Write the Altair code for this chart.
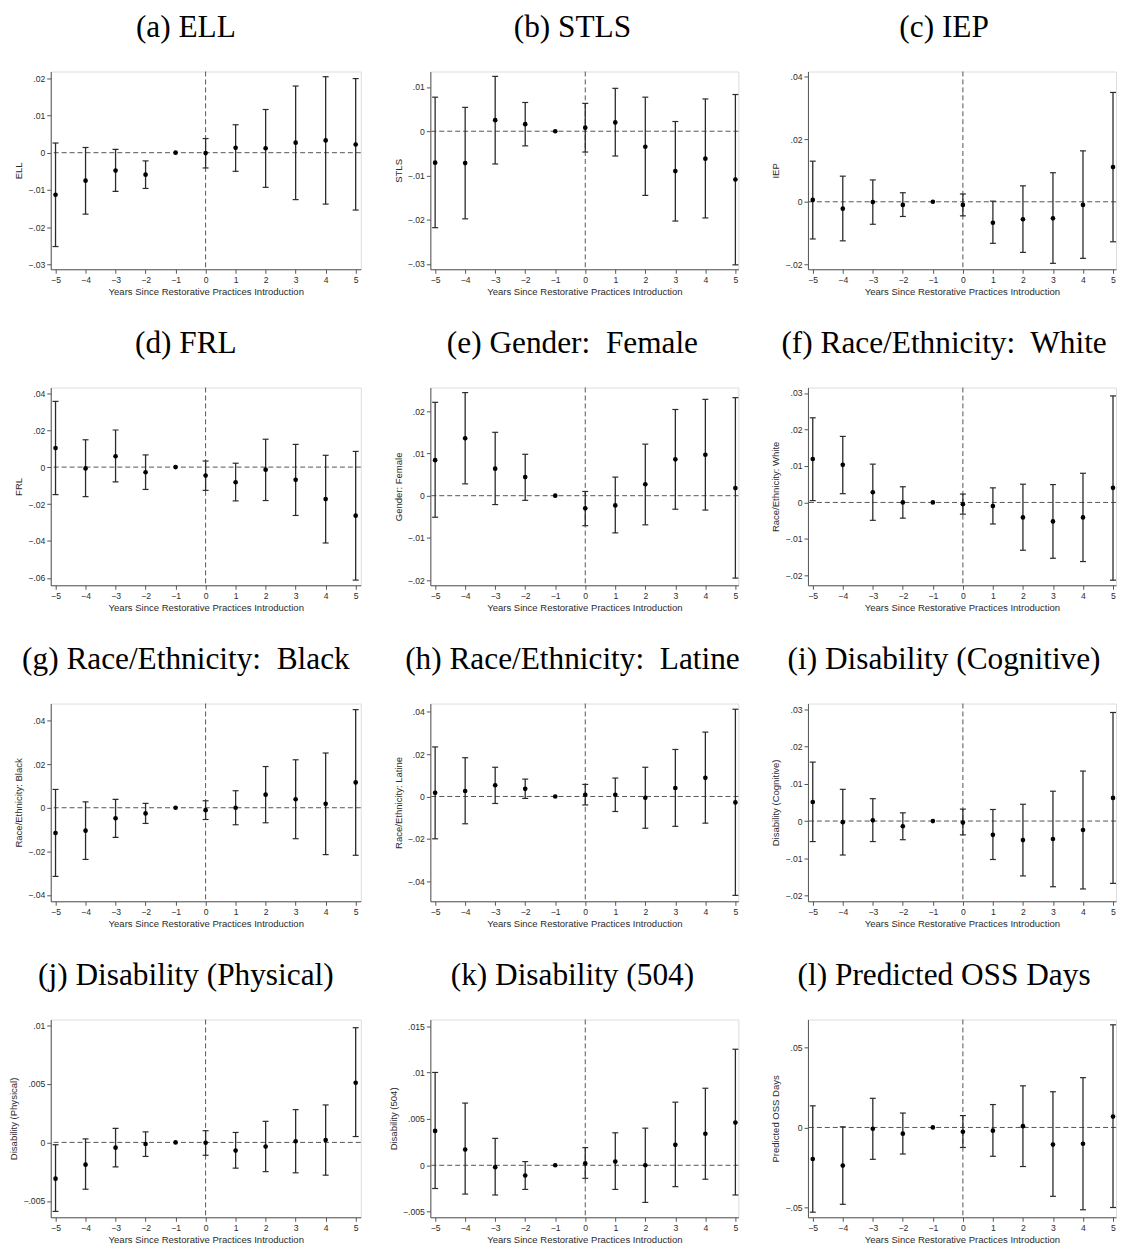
import altair as alt
import pandas as pd

years = [-5, -4, -3, -2, -1, 0, 1, 2, 3, 4, 5]

# (a) ELL
ell_est = [-0.0113, -0.0075, -0.0048, -0.0059, 0.0, -0.0001, 0.0013, 0.0012, 0.0027, 0.0033, 0.0022]
ell_lo = [-0.0252, -0.0165, -0.0104, -0.0096, None, -0.0041, -0.0050, -0.0093, -0.0126, -0.0138, -0.0154]
ell_hi = [0.0026, 0.0014, 0.0009, -0.0022, None, 0.0038, 0.0075, 0.0116, 0.0179, 0.0204, 0.0199]
# (b) STLS
stls_est = [-0.0071, -0.0072, 0.0025, 0.0016, 0.0, 0.0008, 0.0020, -0.0035, -0.0090, -0.0062, -0.0109]
stls_lo = [-0.0218, -0.0198, -0.0074, -0.0033, None, -0.0047, -0.0056, -0.0145, -0.0203, -0.0196, -0.0302]
stls_hi = [0.0077, 0.0054, 0.0124, 0.0065, None, 0.0063, 0.0097, 0.0077, 0.0022, 0.0073, 0.0083]
# (c) IEP
iep_est = [0.0006, -0.0022, -0.0001, -0.0010, 0.0, -0.0010, -0.0067, -0.0056, -0.0053, -0.0010, 0.0111]
iep_lo = [-0.0119, -0.0125, -0.0072, -0.0047, None, -0.0045, -0.0133, -0.0162, -0.0197, -0.0181, -0.0128]
iep_hi = [0.0130, 0.0082, 0.0070, 0.0029, None, 0.0025, 0.0002, 0.0051, 0.0093, 0.0163, 0.0350]
# (d) FRL
frl_est = [0.0103, -0.0007, 0.0059, -0.0028, 0.0, -0.0046, -0.0082, -0.0014, -0.0069, -0.0173, -0.0263]
frl_lo = [-0.0149, -0.0160, -0.0080, -0.0121, None, -0.0126, -0.0183, -0.0181, -0.0262, -0.0411, -0.0612]
frl_hi = [0.0356, 0.0148, 0.0201, 0.0066, None, 0.0033, 0.0021, 0.0151, 0.0123, 0.0064, 0.0085]
# (e) Gender: Female
fem_est = [0.0084, 0.0136, 0.0064, 0.0044, 0.0, -0.0030, -0.0023, 0.0027, 0.0086, 0.0097, 0.0018]
fem_lo = [-0.0051, 0.0028, -0.0021, -0.0011, None, -0.0071, -0.0088, -0.0069, -0.0032, -0.0034, -0.0195]
fem_hi = [0.0221, 0.0244, 0.0150, 0.0098, None, 0.0010, 0.0044, 0.0122, 0.0204, 0.0228, 0.0232]
# (f) Race/Ethnicity: White
wht_est = [0.0119, 0.0103, 0.0028, 0.0000, 0.0, -0.0005, -0.0010, -0.0041, -0.0052, -0.0041, 0.0040]
wht_lo = [0.0005, 0.0024, -0.0049, -0.0043, None, -0.0032, -0.0059, -0.0131, -0.0153, -0.0162, -0.0213]
wht_hi = [0.0232, 0.0181, 0.0105, 0.0043, None, 0.0023, 0.0040, 0.0050, 0.0049, 0.0080, 0.0292]
# (g) Race/Ethnicity: Black
blk_est = [-0.0116, -0.0105, -0.0048, -0.0026, 0.0, -0.0011, 0.0000, 0.0060, 0.0039, 0.0018, 0.0116]
blk_lo = [-0.0315, -0.0237, -0.0136, -0.0072, None, -0.0054, -0.0078, -0.0069, -0.0142, -0.0215, -0.0218]
blk_hi = [0.0084, 0.0027, 0.0038, 0.0020, None, 0.0032, 0.0078, 0.0189, 0.0220, 0.0251, 0.0450]
# (h) Race/Ethnicity: Latine
lat_est = [0.0017, 0.0026, 0.0053, 0.0036, 0.0, 0.0008, 0.0008, -0.0006, 0.0040, 0.0088, -0.0028]
lat_lo = [-0.0200, -0.0129, -0.0033, -0.0009, None, -0.0040, -0.0071, -0.0150, -0.0141, -0.0126, -0.0467]
lat_hi = [0.0234, 0.0183, 0.0138, 0.0082, None, 0.0057, 0.0087, 0.0138, 0.0222, 0.0304, 0.0412]
# (i) Disability (Cognitive)
cog_est = [0.0051, -0.0003, 0.0002, -0.0014, 0.0, -0.0004, -0.0037, -0.0051, -0.0048, -0.0024, 0.0062]
cog_lo = [-0.0055, -0.0091, -0.0055, -0.0050, None, -0.0037, -0.0103, -0.0147, -0.0176, -0.0182, -0.0167]
cog_hi = [0.0158, 0.0085, 0.0060, 0.0022, None, 0.0032, 0.0031, 0.0045, 0.0080, 0.0134, 0.0291]
# (j) Disability (Physical)
phy_est = [-0.0031, -0.0019, -0.00045, -0.00014, 0.0, -0.00003, -0.0007, -0.00036, 0.0001, 0.0002, 0.0051]
phy_lo = [-0.0059, -0.0040, -0.0021, -0.0012, None, -0.0011, -0.0022, -0.0025, -0.0026, -0.0028, 0.0005]
phy_hi = [-0.0002, 0.0003, 0.0012, 0.0009, None, 0.0010, 0.00085, 0.0018, 0.0028, 0.0032, 0.0098]
# (k) Disability (504)
d504_est = [0.0037, 0.0017, -0.0002, -0.0011, 0.0, 0.0002, 0.0004, 0.0000, 0.0022, 0.0034, 0.0046]
d504_lo = [-0.0025, -0.0031, -0.0032, -0.0026, None, -0.0014, -0.0026, -0.0040, -0.0023, -0.0015, -0.0032]
d504_hi = [0.0100, 0.0067, 0.0029, 0.0004, None, 0.0019, 0.0035, 0.0040, 0.0068, 0.0083, 0.0125]
# (l) Predicted OSS Days
oss_est = [-0.0197, -0.0238, -0.0008, -0.0039, 0.0, -0.0027, -0.0020, 0.0008, -0.0107, -0.0102, 0.0068]
oss_lo = [-0.0529, -0.0480, -0.0199, -0.0166, None, -0.0125, -0.0180, -0.0244, -0.0430, -0.0514, -0.0500]
oss_hi = [0.0135, 0.0004, 0.0182, 0.0090, None, 0.0074, 0.0143, 0.0260, 0.0223, 0.0311, 0.0641]

NB = "\u00a0"
panel_titles = ["(a) ELL", "(b) STLS", "(c) IEP",
                "(d) FRL", "(e) Gender:" + NB + " Female", "(f) Race/Ethnicity:" + NB + " White",
                "(g) Race/Ethnicity:" + NB + " Black", "(h) Race/Ethnicity:" + NB + " Latine",
                "(i) Disability (Cognitive)",
                "(j) Disability (Physical)", "(k) Disability (504)", "(l) Predicted OSS Days"]
y_titles = ["ELL", "STLS", "IEP", "FRL", "Gender: Female", "Race/Ethnicity: White",
            "Race/Ethnicity: Black", "Race/Ethnicity: Latine", "Disability (Cognitive)",
            "Disability (Physical)", "Disability (504)", "Predicted OSS Days"]
estimates = [ell_est, stls_est, iep_est, frl_est, fem_est, wht_est, blk_est, lat_est, cog_est, phy_est, d504_est, oss_est]
lows = [ell_lo, stls_lo, iep_lo, frl_lo, fem_lo, wht_lo, blk_lo, lat_lo, cog_lo, phy_lo, d504_lo, oss_lo]
highs = [ell_hi, stls_hi, iep_hi, frl_hi, fem_hi, wht_hi, blk_hi, lat_hi, cog_hi, phy_hi, d504_hi, oss_hi]
y_ticks = [
    [-0.03, -0.02, -0.01, 0, 0.01, 0.02],
    [-0.03, -0.02, -0.01, 0, 0.01],
    [-0.02, 0, 0.02, 0.04],
    [-0.06, -0.04, -0.02, 0, 0.02, 0.04],
    [-0.02, -0.01, 0, 0.01, 0.02],
    [-0.02, -0.01, 0, 0.01, 0.02, 0.03],
    [-0.04, -0.02, 0, 0.02, 0.04],
    [-0.04, -0.02, 0, 0.02, 0.04],
    [-0.02, -0.01, 0, 0.01, 0.02, 0.03],
    [-0.005, 0, 0.005, 0.01],
    [-0.005, 0, 0.005, 0.01, 0.015],
    [-0.05, 0, 0.05],
]
y_domains = [
    [-0.0313, 0.0218], [-0.0312, 0.0135], [-0.0216, 0.0417],
    [-0.0640, 0.0431], [-0.0212, 0.0256], [-0.0227, 0.0315],
    [-0.0429, 0.0478], [-0.0495, 0.0439], [-0.0215, 0.0315],
    [-0.0064, 0.0105], [-0.0056, 0.0157], [-0.0561, 0.0674],
]

col_widths = [312, 310, 310]
col_domains = [[-5.16, 5.17], [-5.16, 5.1], [-5.16, 5.1]]
title_dx = [-20, -12, -18]
H = 199
XTITLE = "Years Since Restorative Practices Introduction"
SANS = "Liberation Sans"
SERIF = "Liberation Serif"
INK = "#2b2b2b"

zero_df = pd.DataFrame({"zero": [0.0]})


def panel(i):
    col = i % 3
    df = pd.DataFrame({"year": years, "est": estimates[i], "lo": lows[i], "hi": highs[i]})
    xs = alt.Scale(domain=col_domains[col], nice=False, zero=False)
    ys = alt.Scale(domain=y_domains[i], nice=False, zero=False)
    xax = alt.Axis(values=years, format="d", title=XTITLE, grid=False, labelFlush=False,
                   tickSize=4, labelPadding=2, labelFontSize=8.7, titleFontSize=9.6,
                   titlePadding=3, labelFont=SANS, titleFont=SANS, titleFontWeight="normal",
                   labelColor=INK, titleColor=INK, domainColor="#555555", tickColor="#555555")
    yax = alt.Axis(values=y_ticks[i], title=y_titles[i], grid=False, labelFlush=False,
                   labelExpr="replace(format(datum.value, '.4~f'), '0.', '.')",
                   tickSize=4, labelPadding=2, labelFontSize=8.7, titleFontSize=9.6,
                   titlePadding=4, labelFont=SANS, titleFont=SANS, titleFontWeight="normal",
                   labelColor=INK, titleColor=INK, domainColor="#555555", tickColor="#555555")
    base = alt.Chart(df)
    zbase = alt.Chart(zero_df)
    hline = zbase.mark_rule(color="#555555", strokeWidth=1, strokeDash=[5, 3]).encode(
        y=alt.Y("zero:Q", scale=ys, axis=yax))
    vline = zbase.mark_rule(color="#555555", strokeWidth=1, strokeDash=[5, 3]).encode(
        x=alt.X("zero:Q", scale=xs, axis=xax))
    bars = base.mark_rule(color=INK, strokeWidth=1.3).encode(
        x=alt.X("year:Q", scale=xs, axis=xax),
        y=alt.Y("lo:Q", scale=ys, axis=yax),
        y2="hi:Q")
    cap_lo = base.mark_tick(orient="horizontal", size=6, thickness=1.2, color=INK, opacity=1).encode(
        x=alt.X("year:Q", scale=xs, axis=xax), y=alt.Y("lo:Q", scale=ys, axis=yax))
    cap_hi = base.mark_tick(orient="horizontal", size=6, thickness=1.2, color=INK, opacity=1).encode(
        x=alt.X("year:Q", scale=xs, axis=xax), y=alt.Y("hi:Q", scale=ys, axis=yax))
    pts = base.mark_circle(size=22, color="black", opacity=1).encode(
        x=alt.X("year:Q", scale=xs, axis=xax), y=alt.Y("est:Q", scale=ys, axis=yax))
    return alt.layer(hline, vline, bars, cap_lo, cap_hi, pts).properties(
        width=col_widths[col], height=H,
        title=alt.TitleParams(text=panel_titles[i], font=SERIF, fontSize=31.5, fontWeight="normal",
                              color="black", anchor="middle", frame="group", dx=title_dx[col],
                              offset=3, baseline="alphabetic"))


chart = alt.concat(*[panel(i) for i in range(12)], columns=3,
                   spacing={"row": 119, "column": 70}).properties(
    bounds="flush", padding={"left": 0, "top": -1, "right": 0, "bottom": 0}
).configure_view(stroke=None).configure(background="white")

chart.save("out.html", embed_options={"renderer": "svg", "actions": False})
